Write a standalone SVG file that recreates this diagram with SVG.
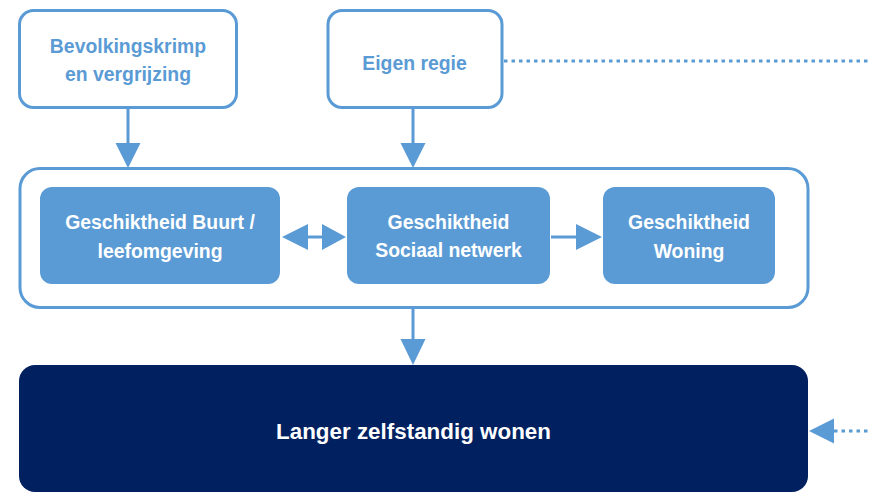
<svg xmlns="http://www.w3.org/2000/svg" width="870" height="493" viewBox="0 0 870 493">
<style>
.outline{fill:#ffffff;stroke:#5B9BD5;stroke-width:3}
.inner{fill:#5B9BD5}
.shaft{stroke:#5B9BD5;stroke-width:3;fill:none}
.dots{stroke:#5B9BD5;stroke-width:3;fill:none;stroke-dasharray:3.5 4}
.head{fill:#5B9BD5}
.t{font-family:"Liberation Sans",Arial,sans-serif;font-weight:bold;font-size:19.4px;text-anchor:middle}
.blue{fill:#5B9BD5}
.white{fill:#ffffff}
</style>
<rect width="870" height="493" fill="#ffffff"/>
<g id="bevolkingskrimp">
  <rect class="outline" x="19.5" y="10.5" width="217" height="97" rx="14"/>
  <text class="t blue" x="128" y="53">Bevolkingskrimp</text>
  <text class="t blue" x="128" y="81">en vergrijzing</text>
</g>
<g id="eigen-regie">
  <rect class="outline" x="328" y="10.5" width="174" height="97" rx="14"/>
  <text class="t blue" x="414.5" y="70">Eigen regie</text>
</g>
<g id="geschiktheid-group">
  <rect class="outline" x="20" y="168.5" width="788" height="139" rx="20"/>
</g>
<g id="buurt">
  <rect class="inner" x="40" y="187" width="240" height="97" rx="12"/>
  <text class="t white" x="160" y="229">Geschiktheid Buurt /</text>
  <text class="t white" x="160" y="258">leefomgeving</text>
</g>
<g id="sociaal">
  <rect class="inner" x="347" y="187" width="203" height="97" rx="12"/>
  <text class="t white" x="448.5" y="229">Geschiktheid</text>
  <text class="t white" x="448.5" y="257">Sociaal netwerk</text>
</g>
<g id="woning">
  <rect class="inner" x="603" y="187" width="172" height="97" rx="12"/>
  <text class="t white" x="689" y="229">Geschiktheid</text>
  <text class="t white" x="689" y="258">Woning</text>
</g>
<g id="langer-zelfstandig">
  <rect x="19" y="365" width="789" height="127" rx="16" fill="#002060"/>
  <text class="t white" x="413.5" y="439" style="font-size:22.4px">Langer zelfstandig wonen</text>
</g>
<g id="connectors">
  <line class="dots" x1="504" y1="61" x2="870" y2="61"/>
  <line class="shaft" x1="128" y1="108" x2="128" y2="145"/>
  <polygon class="head" points="115.5,143 140.5,143 128,168"/>
  <line class="shaft" x1="413" y1="108" x2="413" y2="145"/>
  <polygon class="head" points="400.5,143 425.5,143 413,168"/>
  <polygon class="head" points="282,237 308,224 308,250"/>
  <line class="shaft" x1="306" y1="237" x2="324" y2="237"/>
  <polygon class="head" points="322,224 322,250 346,237"/>
  <line class="shaft" x1="551" y1="237" x2="578" y2="237"/>
  <polygon class="head" points="576,224 576,250 602,237"/>
  <line class="shaft" x1="413" y1="309" x2="413" y2="341"/>
  <polygon class="head" points="400.5,339 425.5,339 413,365"/>
  <line class="dots" x1="834" y1="431" x2="870" y2="431"/>
  <polygon class="head" points="809,431 834,418.5 834,443.5"/>
</g>
</svg>
